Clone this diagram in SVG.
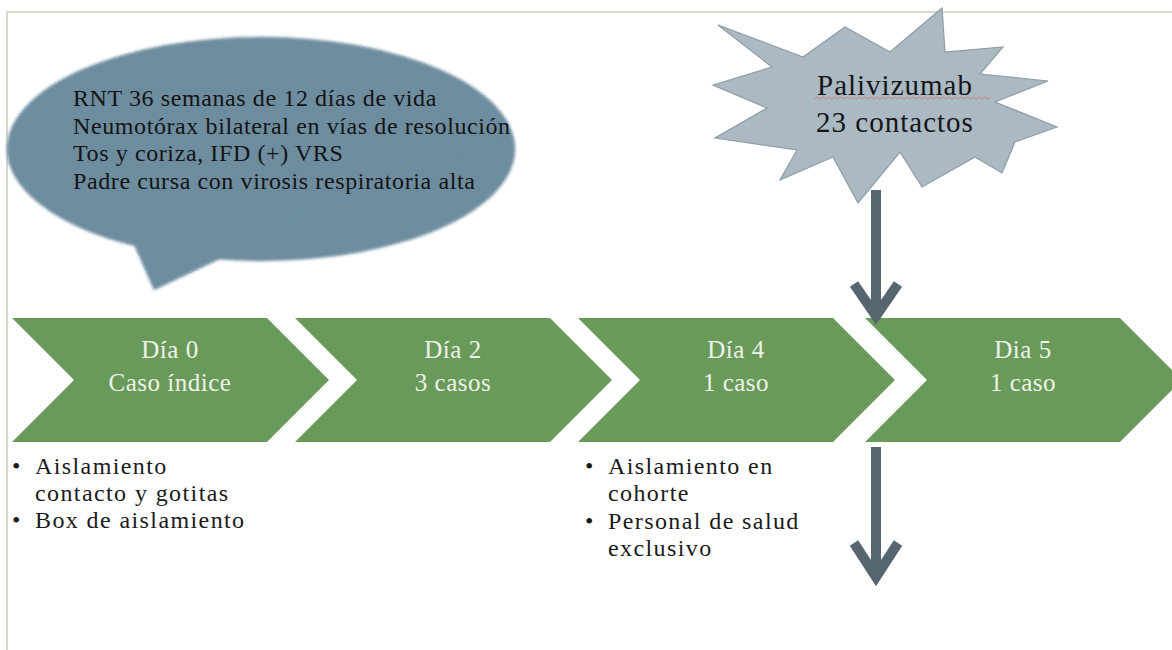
<svg xmlns="http://www.w3.org/2000/svg" width="1172" height="650" viewBox="0 0 1172 650">
  <defs>
    <style>
      .frame { fill: none; stroke: #d8d8cf; stroke-width: 2; }
      .serif { font-family: "Liberation Serif", "Times New Roman", serif; }
      .bub { font-size: 24px; letter-spacing: 0.6px; fill: #141414; }
      .star-t { font-size: 29px; letter-spacing: 1px; fill: #151515; text-anchor: middle; }
      .chev { fill: #6b9a5a; }
      .chev-t { font-size: 25px; letter-spacing: 0.5px; fill: #eef3ea; text-anchor: middle; }
      .note { font-size: 24px; letter-spacing: 1.4px; fill: #1a1a1a; }
      .arrow { fill: none; stroke: #56666e; stroke-width: 10; stroke-linecap: butt; stroke-linejoin: miter; }
    </style>
    <filter id="texture" x="-5%" y="-5%" width="110%" height="110%">
      <feGaussianBlur in="SourceGraphic" stdDeviation="1.4" result="soft"/>
      <feTurbulence type="fractalNoise" baseFrequency="0.9" numOctaves="2" seed="3" result="noise"/>
      <feColorMatrix in="noise" type="matrix" values="0 0 0 0 0.2  0 0 0 0 0.25  0 0 0 0 0.3  0 0 0 -2.2 1.25" result="speck"/>
      <feComposite in="speck" in2="soft" operator="in" result="speckIn"/>
      <feMerge>
        <feMergeNode in="soft"/>
        <feMergeNode in="speckIn"/>
      </feMerge>
    </filter>
    <filter id="soft" x="-5%" y="-5%" width="110%" height="110%">
      <feGaussianBlur stdDeviation="0.7"/>
    </filter>
  </defs>

  <rect width="1172" height="650" fill="#ffffff"/>

  <g id="frame">
    <path class="frame" d="M7,650 V12 H1172"/>
  </g>

  <g id="bubble">
    <g filter="url(#texture)" fill="#6b8ea2">
      <ellipse cx="261" cy="149" rx="254" ry="112"/>
      <polygon points="132,240 154,290 228,255"/>
    </g>
    <g class="serif bub">
      <text x="73" y="106">RNT 36 semanas de 12 días de vida</text>
      <text x="73" y="133.5">Neumotórax bilateral en vías de resolución</text>
      <text x="73" y="161">Tos y coriza, IFD (+) VRS</text>
      <text x="73" y="188.5">Padre cursa con virosis respiratoria alta</text>
    </g>
  </g>

  <g id="star">
    <polygon filter="url(#soft)" fill="#aab9c2" stroke="#8e9da6" stroke-width="1.2" points="718,25 803,57 845,27 890,52 942,8 945,52 1003,47 980,74 1048,81 995,102 1057,127 1015,142 1002,173 975,157 922,187 900,152 858,203 833,157 780,180 797,150 715,138 767,108 713,85 772,67"/>
    <text class="serif star-t" x="895" y="95">Palivizumab</text>
    <path d="M814,99 l3,-2 l3,2 l3,-2 l3,2 l3,-2 l3,2 l3,-2 l3,2 l3,-2 l3,2 l3,-2 l3,2 l3,-2 l3,2 l3,-2 l3,2 l3,-2 l3,2 l3,-2 l3,2 l3,-2 l3,2 l3,-2 l3,2 l3,-2 l3,2 l3,-2 l3,2 l3,-2 l3,2 l3,-2 l3,2 l3,-2 l3,2 l3,-2 l3,2 l3,-2 l3,2 l3,-2 l3,2 l3,-2 l3,2 l3,-2 l3,2 l3,-2 l3,2 l3,-2 l3,2 l3,-2 l3,2 l3,-2 l3,2 l3,-2 l3,2 l3,-2 l3,2 l3,-2 l3,2 l3,-2" fill="none" stroke="#d9534f" stroke-width="1" stroke-dasharray="1.5 1" opacity="0.8"/>
    <text class="serif star-t" x="895" y="132">23 contactos</text>
  </g>

  <g id="day0">
    <polygon class="chev" filter="url(#soft)" points="12,318 267,318 329,380 267,442 12,442 74,380"/>
    <text class="serif chev-t" x="170" y="358">Día 0</text>
    <text class="serif chev-t" x="170" y="391">Caso índice</text>
  </g>
  <g id="day2">
    <polygon class="chev" filter="url(#soft)" points="295,318 550,318 612,380 550,442 295,442 357,380"/>
    <text class="serif chev-t" x="453" y="358">Día 2</text>
    <text class="serif chev-t" x="453" y="391">3 casos</text>
  </g>
  <g id="day4">
    <polygon class="chev" filter="url(#soft)" points="578,318 833,318 895,380 833,442 578,442 640,380"/>
    <text class="serif chev-t" x="736" y="358">Día 4</text>
    <text class="serif chev-t" x="736" y="391">1 caso</text>
  </g>
  <g id="day5">
    <polygon class="chev" filter="url(#soft)" points="865,318 1120,318 1182,380 1120,442 865,442 927,380"/>
    <text class="serif chev-t" x="1023" y="358">Dia 5</text>
    <text class="serif chev-t" x="1023" y="391">1 caso</text>
  </g>

  <g id="notes-day0" class="serif note">
    <text x="12" y="474">•</text>
    <text x="35" y="474">Aislamiento</text>
    <text x="35" y="501">contacto y gotitas</text>
    <text x="12" y="528">•</text>
    <text x="35" y="528">Box de aislamiento</text>
  </g>

  <g id="notes-day4" class="serif note">
    <text x="585" y="474">•</text>
    <text x="608" y="474">Aislamiento en</text>
    <text x="608" y="501">cohorte</text>
    <text x="585" y="529">•</text>
    <text x="608" y="529">Personal de salud</text>
    <text x="608" y="556">exclusivo</text>
  </g>

  <g id="connectors">
    <path class="arrow" d="M876,190 V314 M854,284 L876,316 L898,284"/>
    <path class="arrow" d="M876,447 V575 M854,543 L876,577 L898,543"/>
  </g>
</svg>
